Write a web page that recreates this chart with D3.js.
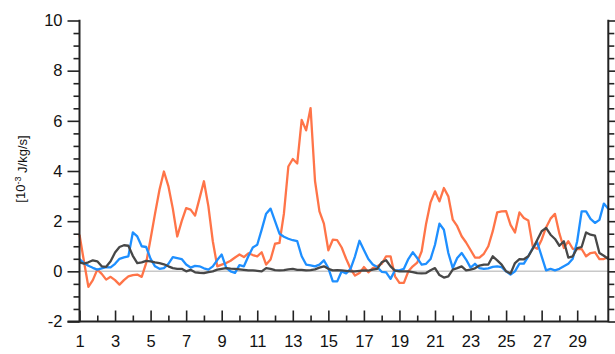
<!DOCTYPE html>
<html>
<head>
<meta charset="utf-8">
<script src="https://cdn.jsdelivr.net/npm/d3@7/dist/d3.min.js"></script>
<style>
  html, body { margin: 0; padding: 0; background: #fff; }
  svg { display: block; font-family: "Liberation Sans", Arial, Helvetica, sans-serif; }
</style>
</head>
<body>
<svg id="chart" width="615" height="354"></svg>
<script>
// ---- data (6-hourly values, day 1.00 .. day 30.75) ----
const stepsPerDay = 4;
const orangeSeries = [
  1.46, 0.40, -0.62, -0.35, 0.07, -0.10, -0.33, -0.22, -0.35, -0.53,
  -0.35, -0.20, -0.15, -0.13, -0.22, 0.33, 1.30, 2.30, 3.25, 3.98,
  3.40, 2.50, 1.39, 2.00, 2.52, 2.46, 2.22, 2.90, 3.59, 2.60,
  1.20, 0.20, 0.27, 0.33, 0.42, 0.55, 0.67, 0.57, 0.72, 0.65,
  0.60, 0.76, 0.27, 0.47, 1.10, 1.13, 2.30, 4.18, 4.48, 4.30,
  6.04, 5.62, 6.51, 3.60, 2.39, 1.90, 0.84, 1.26, 1.24, 0.95,
  0.50, 0.10, -0.17, -0.07, 0.17, -0.04, 0.13, 0.20, 0.30, 0.60,
  0.60, -0.20, -0.46, -0.46, 0.00, 0.20, 0.35, 0.80, 1.90, 2.75,
  3.19, 2.79, 3.32, 2.99, 2.06, 1.80, 1.40, 1.15, 0.85, 0.55,
  0.55, 0.70, 1.00, 1.60, 2.35, 2.39, 2.40, 1.85, 1.55, 2.35,
  2.13, 2.03, 1.00, 0.90, 1.26, 1.75, 2.10, 2.29, 1.50, 0.93,
  1.20, 0.90, 0.89, 0.89, 0.60, 0.73, 0.76, 0.49, 0.49, 0.57
];
const blueSeries = [
  0.49, 0.33, 0.22, 0.14, 0.07, 0.12, 0.17, 0.16, 0.30, 0.50,
  0.56, 0.60, 1.55, 1.39, 1.00, 0.97, 0.50, 0.20, 0.10, 0.13,
  0.30, 0.57, 0.53, 0.49, 0.27, 0.15, 0.22, 0.20, 0.12, 0.07,
  0.20, 0.45, 0.67, 0.15, 0.00, -0.06, 0.25, 0.20, 0.60, 0.95,
  1.06, 1.66, 2.30, 2.50, 2.00, 1.50, 1.38, 1.30, 1.24, 1.20,
  0.60, 0.27, 0.24, 0.20, 0.27, 0.44, 0.13, -0.40, -0.40, 0.00,
  -0.08, 0.10, 0.60, 1.22, 0.85, 0.49, 0.27, 0.17, -0.02, -0.04,
  -0.30, 0.04, 0.04, 0.10, 0.49, 0.76, 0.53, 0.27, 0.30, 0.49,
  1.06, 1.90, 1.66, 0.73, 0.13, 0.53, 0.73, 0.47, 0.15, 0.30,
  0.13, 0.10, 0.12, 0.18, 0.20, 0.17, 0.00, -0.13, 0.00, 0.31,
  0.31, 0.60, 0.93, 1.16, 0.60, 0.04, 0.10, 0.04, 0.10, 0.20,
  0.30, 0.50, 1.20, 2.39, 2.39, 2.09, 1.93, 2.05, 2.70, 2.49
];
const blackSeries = [
  0.36, 0.31, 0.36, 0.44, 0.40, 0.20, 0.18, 0.40, 0.75, 0.97,
  1.04, 1.02, 0.62, 0.33, 0.36, 0.42, 0.40, 0.36, 0.33, 0.28,
  0.20, 0.13, 0.10, 0.10, 0.00, 0.06, -0.04, -0.06, -0.07, -0.03,
  0.00, 0.07, 0.10, 0.13, 0.11, 0.10, 0.08, 0.06, 0.04, 0.04,
  0.02, 0.00, 0.13, 0.10, 0.05, 0.04, 0.05, 0.08, 0.10, 0.06,
  0.06, 0.04, 0.05, 0.08, 0.15, 0.20, 0.10, 0.04, 0.05, 0.04,
  0.02, 0.00, 0.00, 0.02, 0.04, 0.03, 0.07, 0.10, 0.36, 0.44,
  0.20, 0.03, 0.00, 0.00, 0.00, -0.03, -0.07, -0.08, -0.07, 0.04,
  0.13, -0.15, -0.25, -0.20, 0.07, 0.13, 0.20, 0.04, 0.07, 0.12,
  0.23, 0.27, 0.27, 0.60, 0.44, 0.27, 0.00, -0.09, 0.33, 0.49,
  0.48, 0.60, 0.90, 1.25, 1.60, 1.73, 1.46, 1.29, 1.02, 1.20,
  0.55, 0.60, 0.93, 0.97, 1.55, 1.46, 1.42, 0.73, 0.62, 0.49
];
const xTickLabels = [1, 3, 5, 7, 9, 11, 13, 15, 17, 19, 21, 23, 25, 27, 29];
const xMinorTicks = [2, 4, 6, 8, 10, 12, 14, 16, 18, 20, 22, 24, 26, 28, 30];
const yTickLabels = [-2, 0, 2, 4, 6, 8, 10];
const yMinorTicks = [-1.5, -1, -0.5, 0.5, 1, 1.5, 2.5, 3, 3.5, 4.5, 5, 5.5, 6.5, 7, 7.5, 8.5, 9, 9.5];
const yTitle = "J/kg/s]";

const days = orangeSeries.map((_, i) => 1 + i / stepsPerDay);

// ---- layout ----
const svg = d3.select("#chart");
const x = d3.scaleLinear().domain([1, 30.75]).range([79.5, 608.3]);
const y = d3.scaleLinear().domain([-2, 10]).range([321.5, 20.5]);
const fmt = d => String(d);

// zero reference line
svg.append("line")
  .attr("x1", x(1)).attr("x2", x(30.75))
  .attr("y1", y(0)).attr("y2", y(0))
  .attr("stroke", "#c8c8c8").attr("stroke-width", 1.5);

// series lines
const line = d3.line().x((d, i) => x(days[i])).y(d => y(d));
const series = [
  { data: orangeSeries, color: "#ff7448" },
  { data: blueSeries, color: "#1e8fff" },
  { data: blackSeries, color: "#474747" }
];
series.forEach(s => {
  svg.append("path")
    .datum(s.data)
    .attr("d", line)
    .attr("fill", "none")
    .attr("stroke", s.color)
    .attr("stroke-width", 2.3)
    .attr("stroke-linejoin", "round");
});

// axes
const axisColor = "#222";
function styleAxis(g, hideLabels) {
  g.select(".domain").remove();
  g.selectAll(".tick line").attr("stroke", axisColor).attr("stroke-width", 1.6);
  g.selectAll(".tick text").attr("fill", "#111").style("font-size", "16.5px");
  if (hideLabels) g.selectAll(".tick text").remove();
}

// left axis
svg.append("g").attr("transform", `translate(${x(1)},0)`)
  .call(d3.axisLeft(y).tickValues(yTickLabels).tickSize(12).tickPadding(5).tickFormat(fmt))
  .call(g => styleAxis(g, false));
svg.append("g").attr("transform", `translate(${x(1)},0)`)
  .call(d3.axisLeft(y).tickValues(yMinorTicks).tickSize(6))
  .call(g => styleAxis(g, true));

// right axis
svg.append("g").attr("transform", `translate(${x(30.75)},0)`)
  .call(d3.axisRight(y).tickValues(yTickLabels).tickSize(12).tickFormat(""))
  .call(g => styleAxis(g, true));
svg.append("g").attr("transform", `translate(${x(30.75)},0)`)
  .call(d3.axisRight(y).tickValues(yMinorTicks).tickSize(6))
  .call(g => styleAxis(g, true));

// bottom axis (ticks pointing inward)
svg.append("g").attr("transform", `translate(0,${y(-2)})`)
  .call(d3.axisBottom(x).tickValues(xTickLabels).tickSize(-11).tickPadding(14).tickFormat(fmt))
  .call(g => styleAxis(g, false));
svg.append("g").attr("transform", `translate(0,${y(-2)})`)
  .call(d3.axisBottom(x).tickValues(xMinorTicks).tickSize(-6))
  .call(g => styleAxis(g, true));

// axis lines
svg.append("line").attr("x1", x(1)).attr("x2", x(1)).attr("y1", y(10) - 0.8).attr("y2", y(-2) + 0.8)
  .attr("stroke", axisColor).attr("stroke-width", 2);
svg.append("line").attr("x1", x(30.75)).attr("x2", x(30.75)).attr("y1", y(10) - 0.8).attr("y2", y(-2) + 0.8)
  .attr("stroke", axisColor).attr("stroke-width", 2);
svg.append("line").attr("x1", x(1) - 12).attr("x2", x(30.75)).attr("y1", y(-2)).attr("y2", y(-2))
  .attr("stroke", axisColor).attr("stroke-width", 2);

// y-axis title: [10^-3 J/kg/s]
const title = svg.append("text")
  .attr("transform", `translate(25,${y(4) - 2}) rotate(-90)`)
  .attr("text-anchor", "middle")
  .attr("fill", "#111")
  .style("font-size", "13px");
title.append("tspan").text("[10");
title.append("tspan").attr("dy", "-0.5em").style("font-size", "9px").text("-3");
title.append("tspan").attr("dy", "0.5em").text(" " + yTitle);
</script>
</body>
</html>
